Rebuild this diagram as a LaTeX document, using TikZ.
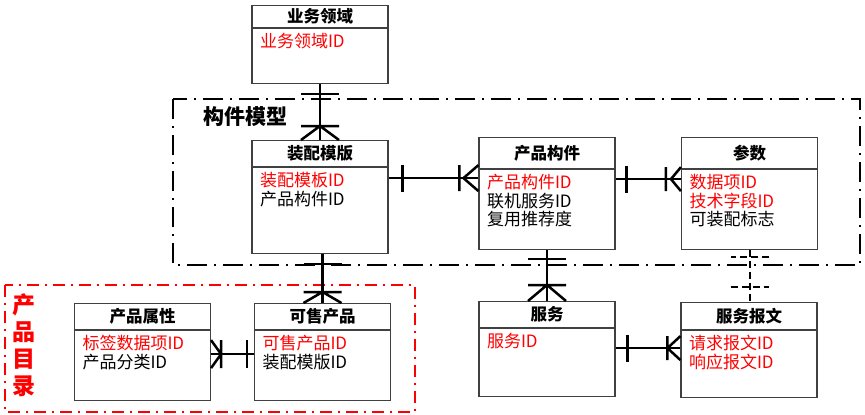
\documentclass[tikz,border=0pt]{standalone}
\usepackage{fontspec}
\setmainfont{Noto Sans CJK SC}
\usepackage{xcolor}
\usepackage{tikz}
\usetikzlibrary{arrows.meta,positioning}
\definecolor{boxline}{HTML}{404040}

\pgfdeclarearrow{
  name = one,
  parameters = {\the\pgfarrowlength,\the\pgfarrowwidth},
  setup code = {
    \pgfarrowssettipend{0pt}
    \pgfarrowssetlineend{0pt}
    \pgfarrowssetbackend{-\pgfarrowlength}
    \pgfarrowssetvisualbackend{-\pgfarrowlength}
    \pgfarrowshullpoint{0pt}{.5\pgfarrowwidth}
    \pgfarrowshullpoint{0pt}{-.5\pgfarrowwidth}
    \pgfarrowshullpoint{-\pgfarrowlength}{.5\pgfarrowwidth}
    \pgfarrowshullpoint{-\pgfarrowlength}{-.5\pgfarrowwidth}
  },
  drawing code = {
    \pgfpathmoveto{\pgfpoint{-\pgfarrowlength}{-.5\pgfarrowwidth}}
    \pgfpathlineto{\pgfpoint{-\pgfarrowlength}{.5\pgfarrowwidth}}
    \pgfusepathqstroke
  },
  defaults = {length=10pt,width=38pt}
}
\pgfdeclarearrow{
  name = many,
  parameters = {\the\pgfarrowlength,\the\pgfarrowwidth,\the\pgfarrowinset},
  setup code = {
    \pgfarrowssettipend{0pt}
    \pgfarrowssetlineend{0pt}
    \pgfarrowssetbackend{-\pgfarrowlength}
    \pgfarrowssetvisualbackend{-\pgfarrowlength}
    \pgfarrowshullpoint{0pt}{.5\pgfarrowwidth}
    \pgfarrowshullpoint{0pt}{-.5\pgfarrowwidth}
    \pgfarrowshullpoint{-\pgfarrowlength}{.5\pgfarrowwidth}
    \pgfarrowshullpoint{-\pgfarrowlength}{-.5\pgfarrowwidth}
  },
  drawing code = {
    \pgfpathmoveto{\pgfpoint{-\pgfarrowlength}{-.5\pgfarrowwidth}}
    \pgfpathlineto{\pgfpoint{-\pgfarrowlength}{.5\pgfarrowwidth}}
    \pgfpathmoveto{\pgfpoint{-\pgfarrowlength+\pgfarrowinset}{0pt}}
    \pgfpathlineto{\pgfpoint{0pt}{.5\pgfarrowwidth}}
    \pgfpathmoveto{\pgfpoint{-\pgfarrowlength+\pgfarrowinset}{0pt}}
    \pgfpathlineto{\pgfpoint{0pt}{-.5\pgfarrowwidth}}
    \pgfusepathqstroke
  },
  defaults = {length=14pt,width=38pt,inset=0pt}
}

\tikzset{enthead/.style={draw=boxline,line width=1.1pt,minimum width=136pt,inner sep=0pt,anchor=north,font=\bfseries\fontsize{16.5}{18}\selectfont},
  entbody/.style={draw=boxline,line width=1.1pt,text width=120pt,inner xsep=8pt,inner ysep=4pt,align=left,text height=15pt,font=\fontsize{17}{18.5}\selectfont},
  conn/.style={line width=2.5pt},
  frame/.style={line width=2pt,dash pattern=on 20pt off 7pt on 2pt off 7pt}}

\begin{document}
\begin{tikzpicture}[x=1pt,y=-1pt]
    \useasboundingbox (0,0) rectangle (865,415);
    \draw[frame] (173,99) rectangle (860,265);
    \draw[frame,red,line width=2.4pt,dash pattern=on 12pt off 6pt on 2pt off 6pt] (5,285) rectangle (415,412);
    \node[anchor=west,font=\bfseries\fontsize{21}{24}\selectfont] (gjmx) at (200,117) {构件模型};
    \node[red,align=center,font=\bfseries\fontsize{23}{27}\selectfont] (cpml) at (24,345) {产\\品\\目\\录};

    \node[enthead,minimum height=22pt] (ywlyh) at (320,5) {业务领域};
    \node[entbody,text depth=32pt,below=0pt of ywlyh] (ywlyb) {\textcolor{red}{业务领域ID}};
    \node[enthead,minimum height=26pt] (zpmbh) at (320,140) {装配模版};
    \node[entbody,text depth=63pt,below=0pt of zpmbh] (zpmbb) {\textcolor{red}{装配模板ID}\\产品构件ID};
    \node[enthead,minimum height=31pt] (cpgjh) at (547,137) {产品构件};
    \node[entbody,text depth=57pt,below=0pt of cpgjh] (cpgjb) {\textcolor{red}{产品构件ID}\\联机服务ID\\复用推荐度};
    \node[enthead,minimum height=31pt] (csh) at (749.5,137) {参数};
    \node[entbody,text depth=57pt,below=0pt of csh] (csb) {\textcolor{red}{数据项ID}\\\textcolor{red}{技术字段ID}\\可装配标志};
    \node[enthead,minimum height=26pt] (cpsxh) at (142.5,303) {产品属性};
    \node[entbody,text depth=47pt,below=0pt of cpsxh] (cpsxb) {\textcolor{red}{标签数据项ID}\\产品分类ID};
    \node[enthead,minimum height=26pt] (kscph) at (322.5,303) {可售产品};
    \node[entbody,text depth=47pt,below=0pt of kscph] (kscpb) {\textcolor{red}{可售产品ID}\\装配模版ID};
    \node[enthead,minimum height=26pt] (fwh) at (547,301) {服务};
    \node[entbody,text depth=45pt,below=0pt of fwh] (fwb) {\textcolor{red}{服务ID}};
    \node[enthead,minimum height=27pt] (fwbwh) at (749,302) {服务报文};
    \node[entbody,text depth=44pt,below=0pt of fwbwh] (fwbwb) {\textcolor{red}{请求报文ID}\\\textcolor{red}{响应报文ID}};

    \draw[conn,{one[length=10pt]}-{many[length=14pt]}] (ywlyb.south) -- (zpmbh.north);
    \draw[conn,{one[length=14pt,width=27pt]}-{many[length=19pt,width=26pt,inset=4pt]}] ([yshift=-11pt]zpmbb.north east) -- ([yshift=-11pt]zpmbb.north east -| cpgjb.west);
    \draw[conn,{one[length=11pt,width=27pt]}-{many[length=15pt,width=24pt,inset=5pt]}] ([yshift=-10pt]cpgjb.north east) -- ([yshift=-10pt]cpgjb.north east -| csb.west);
    \draw[conn,{one[length=9pt]}-{many[length=16pt]}] (cpgjb.south) -- (fwh.north);
    \draw[conn,{one[length=10pt]}-{many[length=11pt]}] (zpmbb.south -| kscph.north) -- (kscph.north);
    \draw[conn,{many[length=10pt,width=28pt]}-{one[length=7pt,width=28pt]}] ([yshift=-24pt]cpsxb.north east) -- ([yshift=-24pt]cpsxb.north east -| kscpb.west);
    \draw[conn,{one[length=12pt,width=27pt]}-{many[length=13pt,width=24pt]}] ([yshift=-20pt]fwb.north east) -- ([yshift=-20pt]fwb.north east -| fwbwb.west);
    \draw[conn,line width=2pt,dash pattern=on 7pt off 4pt,{one[length=7pt]}-{one[length=15pt]}] (csb.south) -- (csb.south |- fwbwh.north);
\end{tikzpicture}
\end{document}
